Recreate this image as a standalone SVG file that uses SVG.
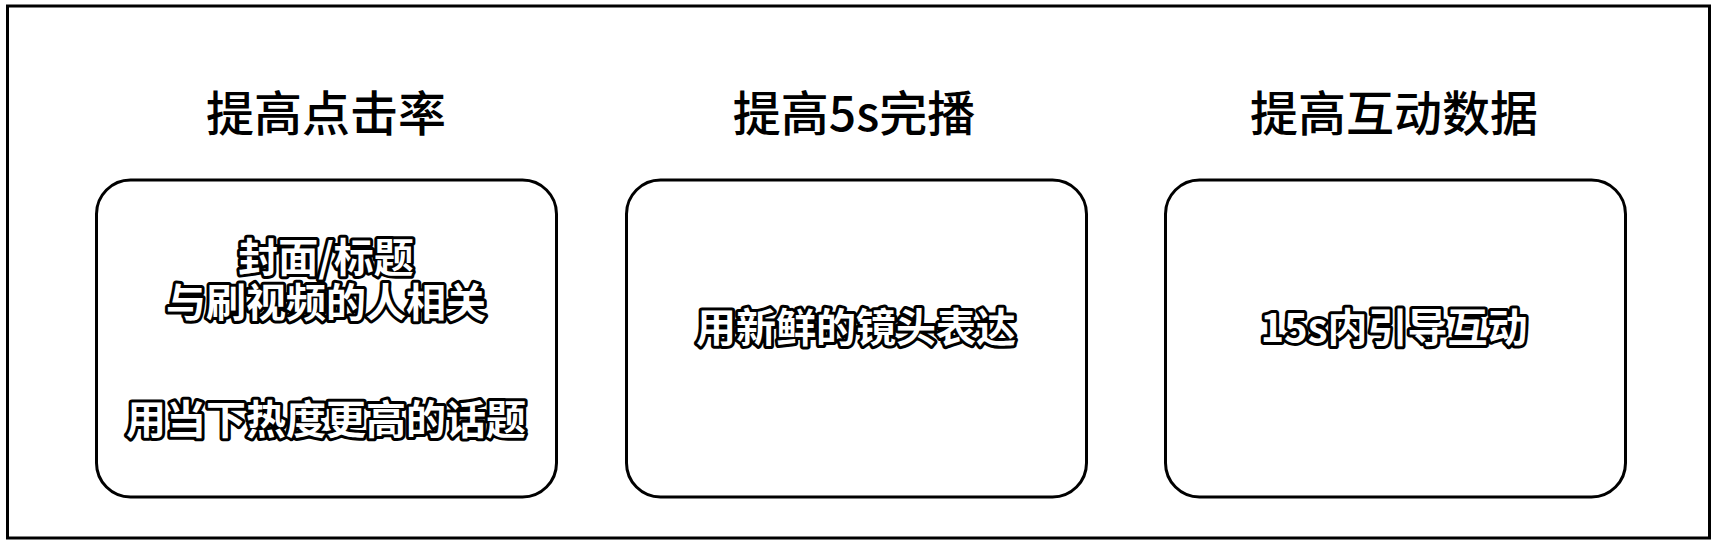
<svg xmlns="http://www.w3.org/2000/svg" width="1717" height="544" viewBox="0 0 1717 544">
<style>
.frame{fill:#fff;stroke:#000;stroke-width:3}
.box{fill:#fff;stroke:#000;stroke-width:3}
.title{font-family:"Noto Sans CJK SC","Noto Sans",sans-serif;font-size:48px;font-weight:500;fill:#000;text-anchor:middle;dominant-baseline:central}
.lbl{font-family:"Noto Sans CJK SC","Noto Sans",sans-serif;font-size:40px;font-weight:700;fill:#fff;stroke:#000;stroke-width:6;stroke-linejoin:round;paint-order:stroke fill;text-anchor:middle;dominant-baseline:central}
</style>
<rect x="0" y="0" width="1717" height="544" fill="#fff"/>
<rect class="frame" x="7.5" y="6" width="1702" height="532"/>
<g id="col1">
<text class="title" x="326" y="110">提高点击率</text>
<rect class="box" x="96.5" y="180" width="460" height="317" rx="34"/>
<text class="lbl" x="326" y="255">封面/标题</text>
<text class="lbl" x="326" y="300">与刷视频的人相关</text>
<text class="lbl" x="326" y="417">用当下热度更高的话题</text>
</g>
<g id="col2">
<text class="title" x="854" y="110">提高5s完播</text>
<rect class="box" x="626.5" y="180" width="460" height="317" rx="34"/>
<text class="lbl" x="856" y="325">用新鲜的镜头表达</text>
</g>
<g id="col3">
<text class="title" x="1394" y="110">提高互动数据</text>
<rect class="box" x="1165.5" y="180" width="460" height="317" rx="34"/>
<text class="lbl" x="1394" y="325">15s内引导互动</text>
</g>
<g id="connectors"></g>
</svg>
